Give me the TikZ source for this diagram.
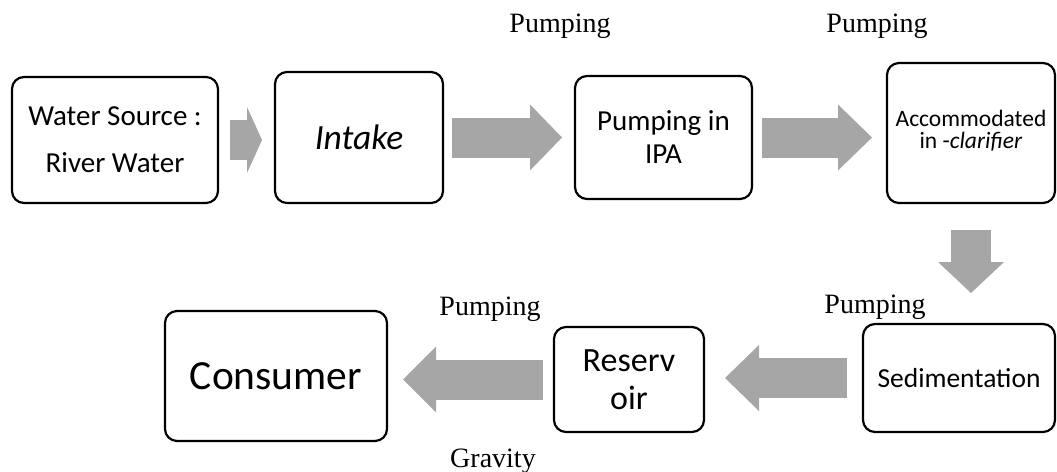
\documentclass[tikz,border=0pt]{standalone}
\usepackage{fontspec}
\setmainfont{Liberation Serif}
\newfontfamily\boxfont{Carlito}
\usetikzlibrary{arrows.meta}
\definecolor{arrowgray}{RGB}{166,166,166}

\begin{document}
\begin{tikzpicture}
[x=1pt,y=-1pt,
  boxDecorate/.style={shape=rectangle,rounded corners=12pt,draw,line width=2.2pt,
    inner sep=0pt,outer sep=0pt,align=center},
  arrowDecorate/.style={draw=arrowgray,line width=40pt,
    -{Triangle[length=#1,width=66pt,line width=0pt]}},
  arrowDecorate/.default=33pt,
  labelDecorate/.style={anchor=base,inner sep=0pt,font=\fontsize{28}{30}\selectfont}]
\useasboundingbox (0,0) rectangle (1057,471);
%% process boxes
\node (ws) at (115,140) [boxDecorate,minimum width=206pt,minimum height=126pt,
  font=\boxfont\fontsize{29}{47}\selectfont] {Water Source :\\River Water};
\node (intake) at (359,137.5) [boxDecorate,minimum width=168pt,minimum height=131pt,
  font=\boxfont\fontsize{35.5}{40}\selectfont] {\itshape Intake};
\node (ipa) at (663.5,137.5) [boxDecorate,minimum width=177pt,minimum height=123pt,
  font=\boxfont\fontsize{29}{33}\selectfont] {Pumping in\\IPA};
\node (acc) at (971,133) [boxDecorate,minimum width=168pt,minimum height=140pt,
  font=\boxfont\fontsize{23.5}{22}\selectfont] {Accommodated\\in -\textit{clarifier}\\[-14pt]};
\node (sed) at (959,378) [boxDecorate,minimum width=192pt,minimum height=108pt,
  font=\boxfont\fontsize{27.5}{30}\selectfont] {Sedimentation};
\node (res) at (629,379.5) [boxDecorate,minimum width=150pt,minimum height=105pt,
  font=\boxfont\fontsize{34}{38}\selectfont] {Reserv\\oir};
\node (cons) at (276,376) [boxDecorate,minimum width=222pt,minimum height=130pt,
  font=\boxfont\fontsize{41.5}{44}\selectfont] {Consumer};
%% labels on the flow
\foreach \lblname/\x/\y in {pumpA/560/32, pumpB/877/32, pumpC/490/315, pumpD/875/313}
{
  \node (\lblname) at (\x,\y) [labelDecorate] {Pumping};
}
\node (gravity) at (493,467) [labelDecorate] {Gravity};
%% block arrows
\draw[arrowDecorate=15pt,shorten <=12pt,shorten >=13pt] (ws.east) -- (ws.east -| intake.west);
\draw[arrowDecorate=32pt,shorten <=9pt,shorten >=13pt] (intake.east) -- (intake.east -| ipa.west);
\draw[arrowDecorate=34pt,shorten <=10pt,shorten >=15pt] (ipa.east) -- (ipa.east -| acc.west);
\draw[arrowDecorate=31pt,shorten <=27pt,shorten >=31pt] (acc.south) -- (acc.south |- sed.north);
\draw[arrowDecorate=34pt,shorten <=16pt,shorten >=21pt] (sed.west) -- (sed.west -| res.east);
\draw[arrowDecorate=33pt,shorten <=11pt,shorten >=16pt] (res.west) -- (res.west -| cons.east);
\end{tikzpicture}
\end{document}
